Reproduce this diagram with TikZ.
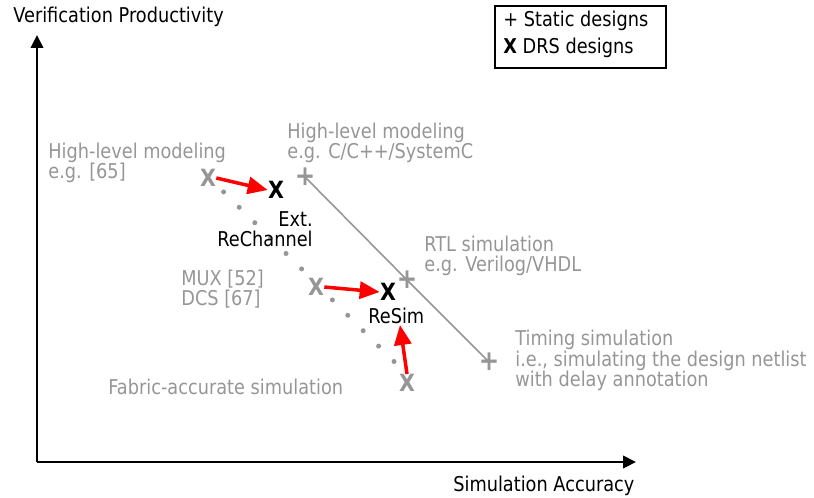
\documentclass[tikz,border=0pt]{standalone}
\usepackage{fontspec}
\setmainfont[FakeStretch=0.87]{DejaVu Sans}
\usetikzlibrary{arrows.meta}
\definecolor{markgray}{RGB}{150,150,150}
\definecolor{arrowred}{RGB}{255,0,0}
\begin{document}
\begin{tikzpicture}[x=0.02cm,y=-0.02cm,font=\fontsize{11.6}{11.7}\selectfont,axis/.style={line width=1.2pt,-{Triangle[length=0.26cm,width=0.25cm]}},grylabel/.style={text=markgray,align=left,anchor=west,inner sep=0pt},blklabel/.style={text=black,inner sep=0pt},statmark/.style={text=markgray,font=\fontsize{16}{16}\selectfont,inner sep=0pt},drsmark/.style={text=markgray,font=\fontsize{13.5}{13.5}\selectfont\bfseries,inner sep=0pt},newmark/.style={drsmark,text=black,font=\fontsize{13.5}{13.5}\selectfont\bfseries},improve/.style={draw=arrowred,line width=2pt,-{Triangle[length=0.4cm,width=0.34cm]}},dotpt/.style={fill=markgray,draw=none}]
\useasboundingbox (0,0) rectangle (814,497);
% axes
\coordinate (origin) at (37,462); \coordinate (ytip) at (37,35); \coordinate (xtip) at (636,462);
\draw[axis] (origin) -- (ytip); \draw[axis] (origin) -- (xtip);
\node[blklabel,anchor=west] (ylab) at (13,17) {Verification Productivity};
\node[blklabel,anchor=west] (xlab) at (453,486) {Simulation Accuracy};
% legend
\node[draw=black,line width=0.9pt,minimum width=171*0.02cm,minimum height=62*0.02cm,anchor=north west] (legend) at (494,5) {};
\node[blklabel,anchor=west] (leg1) at (503,21) {+ Static designs};
\node[blklabel,anchor=west] (leg2) at (503,48) {\textbf{X} DRS designs};
% static designs
\node[statmark] (hls) at (305,177) {\textbf{+}}; \node[statmark] (rtl) at (407,280) {\textbf{+}}; \node[statmark] (tim) at (489,362) {\textbf{+}};
\draw[markgray,line width=0.9pt] (hls.center) -- (rtl.center) -- (tim.center);
% DRS designs
\node[drsmark] (hlx) at (208,178) {X}; \node[drsmark] (mux) at (316,287) {X}; \node[drsmark] (fab) at (407,383) {X};
\foreach \i in {1,...,6} {\fill[dotpt] (208+15.6*\i,176.5+15.4*\i) circle (2.5);}
\foreach \i in {1,...,5} {\fill[dotpt] (317+15.4*\i,284.5+15.4*\i) circle (2.5);}
\node[newmark] (ext) at (276,190) {X}; \node[newmark] (resim) at (388,292) {X};
\draw[improve] (hlx.east) -- (ext.west); \draw[improve] (mux.east) -- (resim.west); \draw[improve] (fab.north) -- (400,325);
% labels
\node[grylabel] (l1) at (48,163) {High-level modeling\\e.g. [65]};
\node[grylabel] (l2) at (287,143) {High-level modeling\\e.g. C/C++/SystemC};
\node[blklabel,align=right,anchor=east] (l3) at (313,229) {Ext.\\ReChannel};
\node[grylabel] (l4) at (424,256) {RTL simulation\\e.g. Verilog/VHDL};
\node[grylabel] (l5) at (181,289) {MUX [52]\\DCS [67]};
\node[blklabel,anchor=west] (l6) at (368,315.5) {ReSim};
\node[grylabel] (l7) at (515,360.5) {Timing simulation\\i.e., simulating the design netlist\\with delay annotation};
\node[grylabel] (l8) at (108,387) {Fabric-accurate simulation};
\end{tikzpicture}
\end{document}
